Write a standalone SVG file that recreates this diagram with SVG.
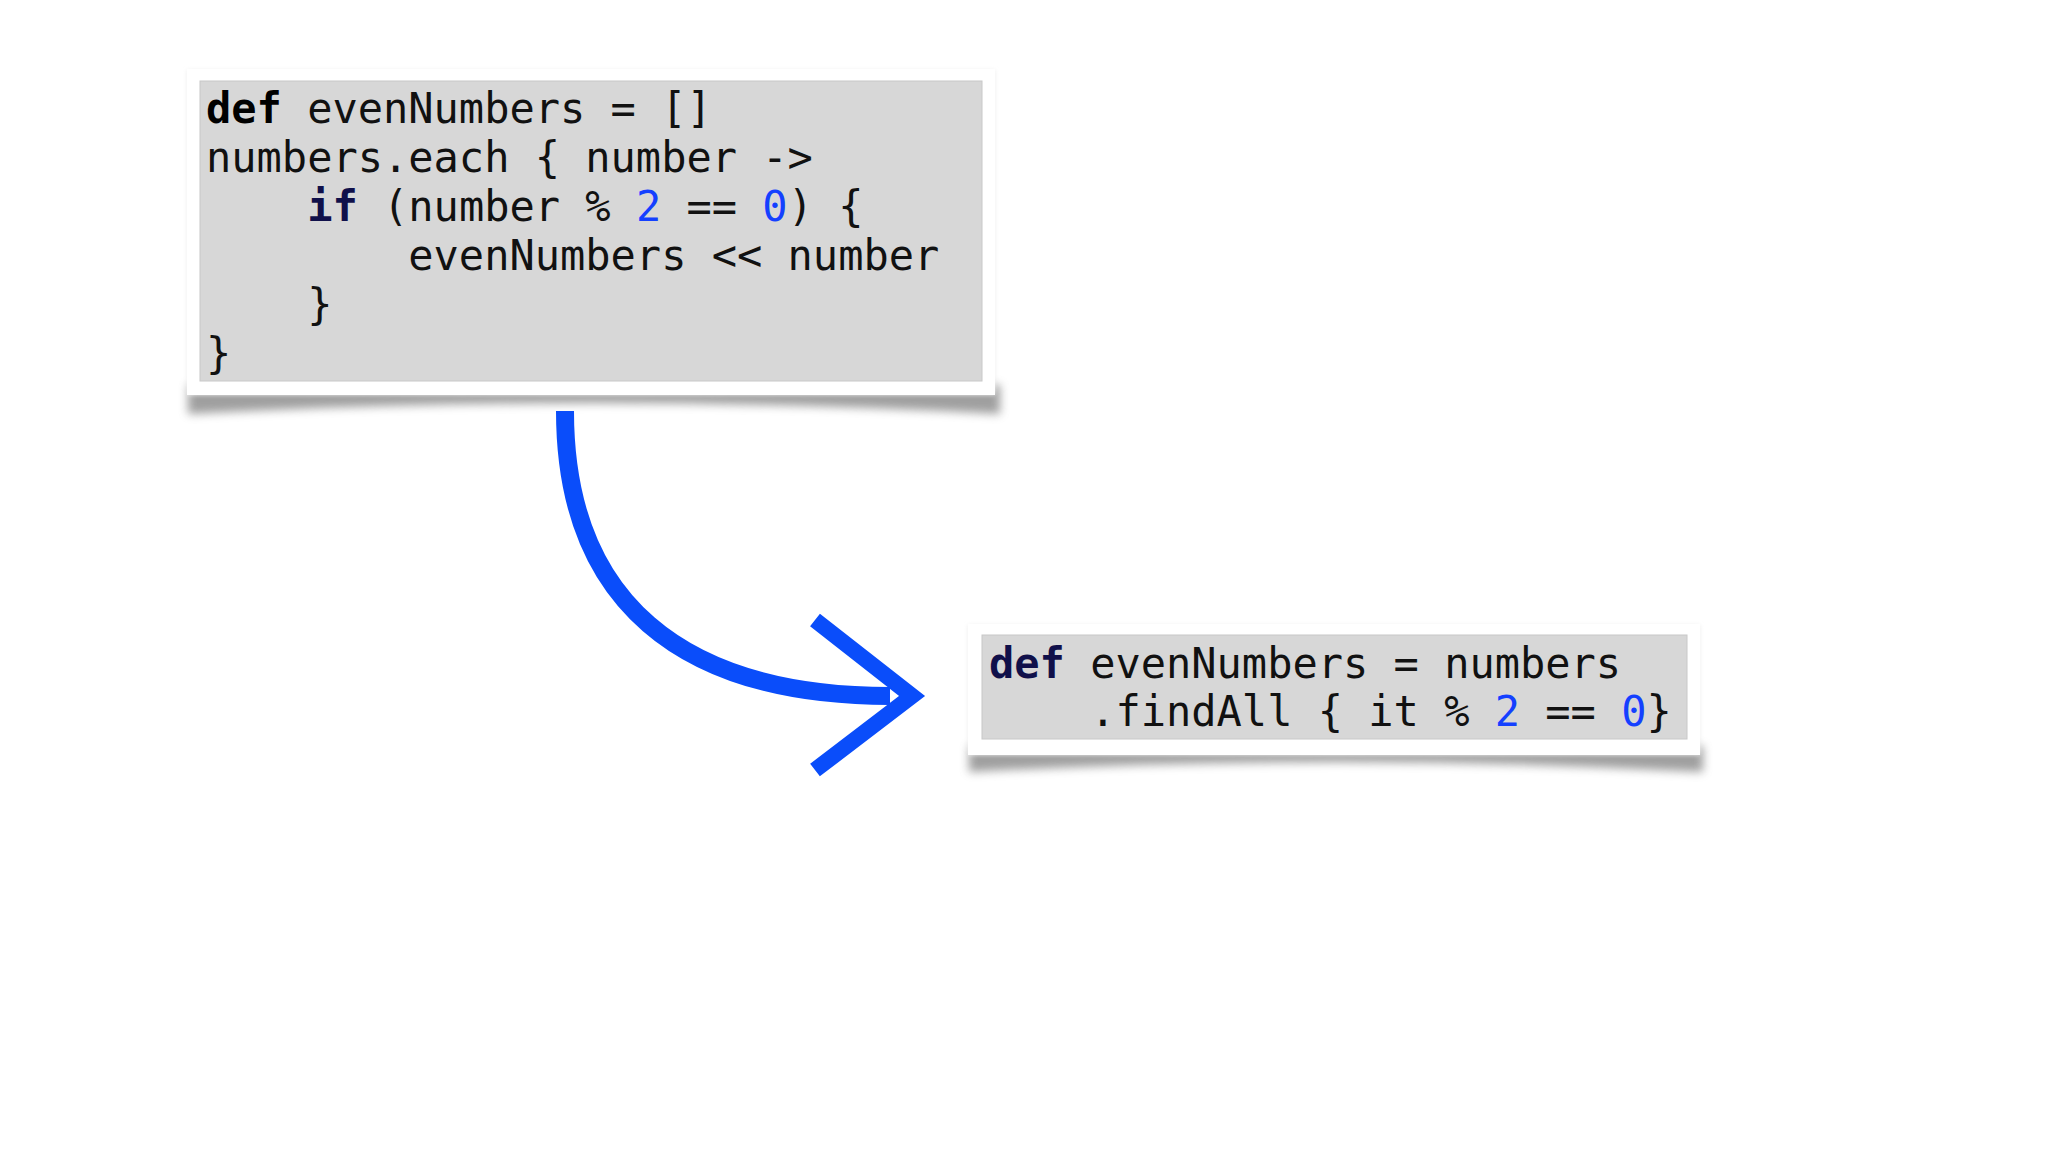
<svg xmlns="http://www.w3.org/2000/svg" width="2048" height="1152" viewBox="0 0 2048 1152">
<defs>
<filter id="blur" x="-10%" y="-50%" width="120%" height="200%"><feGaussianBlur stdDeviation="5"/></filter>
<filter id="soft" x="-5%" y="-10%" width="110%" height="120%"><feGaussianBlur stdDeviation="2"/></filter>
</defs>
<style>
.code{font-family:"DejaVu Sans Mono","Liberation Mono",monospace;font-size:42px;fill:#111;white-space:pre}
.kw{font-weight:bold;fill:#000}
.kw2{font-weight:bold;fill:#10104a}
.num{fill:#1440ff}
.frame{fill:#fff}
.panel{fill:#d7d7d7;stroke:#c8c8c8;stroke-width:1}
.shadow{fill:#777;opacity:0.7;filter:url(#blur)}
.arrow{fill:none;stroke:#0a4dfa}
</style>
<rect width="2048" height="1152" fill="#fff"/>
<g id="node-loop">
<path class="shadow" d="M188,385 L1000,385 L1000,414 Q594,392 188,414 Z"/>
<rect x="187" y="70" width="808" height="325" fill="#eee" filter="url(#soft)"/>
<rect class="frame" x="187" y="69" width="808" height="326"/>
<rect class="panel" x="200" y="81" width="782" height="300"/>
<text class="code" x="206" y="123"><tspan class="kw">def</tspan> evenNumbers = []</text>
<text class="code" x="206" y="172">numbers.each { number -&gt;</text>
<text class="code" x="206" y="221">    <tspan class="kw2">if</tspan> (number % <tspan class="num">2</tspan> == <tspan class="num">0</tspan>) {</text>
<text class="code" x="206" y="270">        evenNumbers &lt;&lt; number</text>
<text class="code" x="206" y="319">    }</text>
<text class="code" x="206" y="368">}</text>
</g>
<g id="node-findall">
<path class="shadow" d="M969,746 L1703,746 L1703,772 Q1336,752 969,772 Z"/>
<rect x="968" y="625" width="732" height="130" fill="#eee" filter="url(#soft)"/>
<rect class="frame" x="968" y="624" width="732" height="131"/>
<rect class="panel" x="982" y="635" width="705" height="104"/>
<text class="code" x="989" y="678"><tspan class="kw2">def</tspan> evenNumbers = numbers</text>
<text class="code" x="989" y="726">    .findAll { it % <tspan class="num">2</tspan> == <tspan class="num">0</tspan>}</text>
</g>
<g id="connectors">
<path class="arrow" stroke-width="18" d="M565,411 C565,600 680,696 890,696"/>
<polyline class="arrow" stroke-width="16" stroke-linejoin="miter" points="815,620 912,696 815,770"/>
</g>
</svg>
